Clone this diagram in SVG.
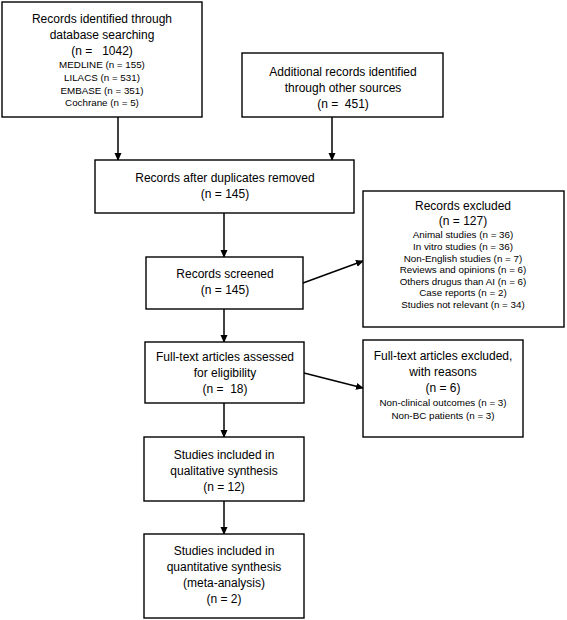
<svg xmlns="http://www.w3.org/2000/svg" width="567" height="620" viewBox="0 0 567 620">
<defs>
<marker id="ah" markerWidth="8" markerHeight="8" refX="7" refY="4" orient="auto" markerUnits="userSpaceOnUse">
<path d="M0,0.5 L8,4 L0,7.5 Z" fill="#000"/>
</marker>
<style>
.box{fill:#fff;stroke:#000;stroke-width:1.4}
.t{font-family:"Liberation Sans",Arial,sans-serif;font-size:12px;text-anchor:middle;fill:#000}
.s{font-family:"Liberation Sans",Arial,sans-serif;font-size:9.8px;text-anchor:middle;fill:#000}
.c{stroke:#000;stroke-width:1.5;fill:none;marker-end:url(#ah)}
</style>
</defs>
<rect width="567" height="620" fill="#fff"/>
<g id="connectors">
<line class="c" x1="118" y1="117" x2="118" y2="160"/>
<line class="c" x1="332" y1="117" x2="332" y2="160"/>
<line class="c" x1="224" y1="213" x2="224" y2="257"/>
<line class="c" x1="303" y1="283" x2="363" y2="261"/>
<line class="c" x1="224" y1="309" x2="224" y2="342"/>
<line class="c" x1="304" y1="373" x2="363" y2="388"/>
<line class="c" x1="224" y1="403" x2="224" y2="437"/>
<line class="c" x1="224" y1="501" x2="224" y2="534"/>
</g>
<g id="db">
<rect class="box" x="2" y="2" width="200" height="115"/>
<text class="t" x="102" y="23">Records identified through</text>
<text class="t" x="102" y="39">database searching</text>
<text class="t" x="102" y="55" xml:space="preserve">(n =   1042)</text>
<text class="s" x="102" y="68">MEDLINE (n = 155)</text>
<text class="s" x="102" y="81">LILACS (n = 531)</text>
<text class="s" x="102" y="94">EMBASE (n = 351)</text>
<text class="s" x="102" y="106">Cochrane (n = 5)</text>
</g>
<g id="other">
<rect class="box" x="242" y="53" width="201" height="64"/>
<text class="t" x="343" y="76">Additional records identified</text>
<text class="t" x="343" y="92">through other sources</text>
<text class="t" x="343" y="108" xml:space="preserve">(n =  451)</text>
</g>
<g id="dup">
<rect class="box" x="95" y="160" width="259" height="53"/>
<text class="t" x="225" y="182">Records after duplicates removed</text>
<text class="t" x="225" y="198">(n = 145)</text>
</g>
<g id="screened">
<rect class="box" x="146" y="257" width="157" height="52"/>
<text class="t" x="225" y="278">Records screened</text>
<text class="t" x="225" y="294">(n = 145)</text>
</g>
<g id="excluded">
<rect class="box" x="363" y="191" width="201" height="136"/>
<text class="t" x="463" y="210">Records excluded</text>
<text class="t" x="463" y="225">(n = 127)</text>
<text class="s" x="463" y="238">Animal studies (n = 36)</text>
<text class="s" x="463" y="250">In vitro studies (n = 36)</text>
<text class="s" x="463" y="262">Non-English studies (n = 7)</text>
<text class="s" x="463" y="273">Reviews and opinions (n = 6)</text>
<text class="s" x="463" y="285">Others drugus than AI (n = 6)</text>
<text class="s" x="463" y="296">Case reports (n = 2)</text>
<text class="s" x="463" y="308">Studies not relevant (n = 34)</text>
</g>
<g id="fulltext">
<rect class="box" x="145" y="342" width="159" height="61"/>
<text class="t" x="225" y="361">Full-text articles assessed</text>
<text class="t" x="225" y="377">for eligibility</text>
<text class="t" x="225" y="393" xml:space="preserve">(n =  18)</text>
</g>
<g id="ftexcluded">
<rect class="box" x="363" y="340" width="160" height="97"/>
<text class="t" x="443" y="360">Full-text articles excluded,</text>
<text class="t" x="443" y="376">with reasons</text>
<text class="t" x="443" y="392">(n = 6)</text>
<text class="s" x="443" y="406">Non-clinical outcomes (n = 3)</text>
<text class="s" x="443" y="419">Non-BC patients (n = 3)</text>
</g>
<g id="qual">
<rect class="box" x="144" y="437" width="160" height="64"/>
<text class="t" x="224" y="459">Studies included in</text>
<text class="t" x="224" y="475">qualitative synthesis</text>
<text class="t" x="224" y="491">(n = 12)</text>
</g>
<g id="quant">
<rect class="box" x="144" y="534" width="160" height="84"/>
<text class="t" x="224" y="555">Studies included in</text>
<text class="t" x="224" y="571">quantitative synthesis</text>
<text class="t" x="224" y="587">(meta-analysis)</text>
<text class="t" x="224" y="603">(n = 2)</text>
</g>
</svg>
